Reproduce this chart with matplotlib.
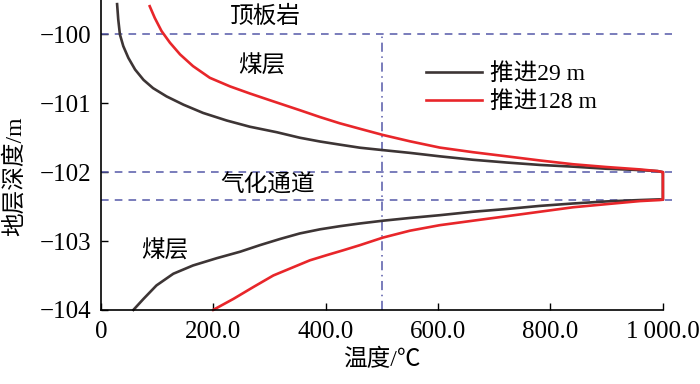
import numpy as np
import matplotlib.pyplot as plt

plt.rcParams['font.family'] = ['Liberation Serif', 'Noto Sans CJK SC', 'DejaVu Sans']

# upper branch (coal above the gasification channel): temperature, depth
t29_up = [29, 31, 34, 40, 49, 61, 76, 93, 117, 147, 182, 224, 265, 313, 354, 390,
          425, 461, 502, 550, 603, 662, 722, 781, 840, 899, 959, 991, 1000]
d29_up = [-99.56, -99.78, -100.0, -100.17, -100.34, -100.51, -100.66, -100.78,
          -100.90, -101.02, -101.14, -101.25, -101.34, -101.42, -101.50, -101.555,
          -101.60, -101.645, -101.68, -101.72, -101.77, -101.82, -101.86, -101.895,
          -101.92, -101.95, -101.97, -101.985, -102.0]
t128_up = [87, 96, 108, 123, 141, 164, 194, 230, 265, 301, 354, 390, 425, 461,
           502, 550, 603, 662, 722, 781, 840, 899, 959, 991, 1000]
d128_up = [-99.59, -99.76, -99.95, -100.12, -100.29, -100.46, -100.63, -100.755,
           -100.857, -100.956, -101.10, -101.20, -101.29, -101.37, -101.46,
           -101.552, -101.643, -101.71, -101.77, -101.83, -101.885, -101.925,
           -101.96, -101.985, -102.0]
# lower branch (coal below the channel)
t29_lo = [1000, 994, 959, 899, 840, 781, 722, 662, 603, 550, 502, 461, 425, 390,
          354, 319, 283, 248, 206, 164, 129, 99, 76, 58]
d29_lo = [-102.4, -102.395, -102.405, -102.425, -102.455, -102.49, -102.535,
          -102.575, -102.625, -102.665, -102.705, -102.745, -102.785, -102.83,
          -102.89, -102.97, -103.06, -103.155, -103.25, -103.355, -103.475,
          -103.645, -103.84, -104.0]
t128_lo = [1000, 994, 959, 899, 840, 781, 722, 662, 603, 550, 502, 461, 431, 402,
           372, 307, 271, 236, 200]
d128_lo = [-102.4, -102.405, -102.42, -102.465, -102.51, -102.575, -102.64,
           -102.705, -102.77, -102.85, -102.95, -103.06, -103.135, -103.205,
           -103.28, -103.50, -103.67, -103.84, -104.0]

xticks = [0, 200, 400, 600, 800, 1000]
xlabels = ['0', '200.0', '400.0', '600.0', '800.0', '1\u2009000.0']
yticks = [-104, -103, -102, -101, -100]
ylabels = ['−104', '−103', '−102', '−101', '−100']
layers = [-100, -102, -102.4]

t29 = t29_up + t29_lo
d29 = d29_up + d29_lo
t128 = t128_up + t128_lo
d128 = d128_up + d128_lo

fig = plt.figure(figsize=(7, 3.84), dpi=100)
ax = fig.add_axes([0.144, 0.193, 0.803, 0.807])

c_blue = '#5558a8'
for y in layers:
    ax.plot([0, 1016], [y, y], color=c_blue, lw=1.1, ls=(0, (5, 4)), clip_on=False)
ax.plot([500, 500], [-104, -100], color=c_blue, lw=1.1, ls=(0, (6, 3, 1, 3)))

ax.plot(t29, d29, color='#3d3535', lw=1.9, label='推进29 m', clip_on=False)
ax.plot(t128, d128, color='#e8262a', lw=1.9, label='推进128 m', clip_on=False)

ax.set_xlim(0, 1000)
ax.set_ylim(-104, -99.5)
ax.set_xticks(xticks)
ax.set_xticklabels(xlabels)
ax.set_yticks(yticks)
ax.set_yticklabels(ylabels)
ax.tick_params(direction='in', length=5, width=1, labelsize=18)
ax.tick_params(axis='x', pad=8)
ax.tick_params(axis='y', pad=7)
for s in ['top', 'right']:
    ax.spines[s].set_visible(False)
for s in ['left', 'bottom']:
    ax.spines[s].set_linewidth(1.2)

ax.set_xlabel('温度/℃', fontsize=17, labelpad=4)
ax.set_ylabel('地层深度/m', fontsize=17)
ax.yaxis.set_label_coords(-0.133, 0.43)

ax.text(292, -99.745, '顶板岩', fontsize=17, ha='center', va='center')
ax.text(287, -100.466, '煤层', fontsize=17, ha='center', va='center')
ax.text(297, -102.20, '气化通道', fontsize=17, ha='center', va='center')
ax.text(114, -103.15, '煤层', fontsize=17, ha='center', va='center')

ax.legend(loc='center left', bbox_to_anchor=(0.578, 0.715), frameon=False,
          fontsize=17, handlelength=2.37, handletextpad=0.34, labelspacing=0.25,
          borderpad=0, borderaxespad=0)

fig.savefig('out.png', dpi=100)
